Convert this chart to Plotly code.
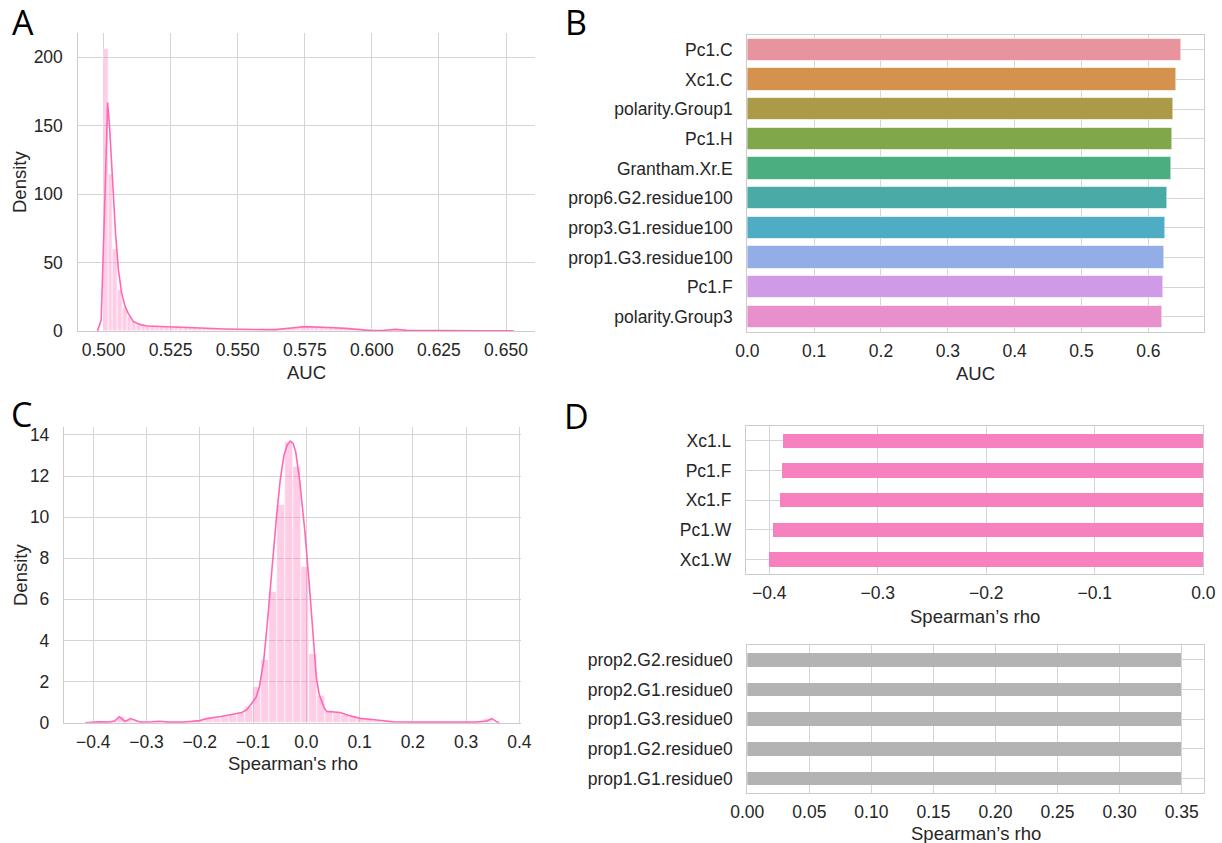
import numpy as np
import plotly.graph_objects as go

# ---------------- Panel A: AUC distribution ----------------
a_hist_start = 0.500
a_hist_width = 0.00175
a_hist_density = [206, 115, 60, 30, 17, 10.5, 7.5, 6, 5, 4.2,
                  3.6, 3.4, 3.3, 3.2, 3.0, 3.3, 2.9, 3.0, 2.7, 2.8,
                  2.5, 2.2, 2.0, 1.8, 1.6, 1.5, 1.4, 1.3, 1.2, 1.3,
                  1.1, 1.2, 1.0, 1.1, 1.0, 1.0, 1.1, 1.3, 1.6, 2.2,
                  2.8, 3.2, 3.4, 3.3, 3.2, 3.0, 2.9, 3.1, 2.7, 2.6,
                  2.4, 2.2, 1.9, 1.5, 1.2, 0.9, 0.6, 0.4, 0.3, 0.4,
                  0.6, 0.9, 1.2, 1.0, 0.6, 0.4, 0.3, 0.3, 0.2, 0.2,
                  0.2, 0.2, 0.1, 0.1, 0.2, 0.1, 0.2, 0.1, 0.1, 0.1,
                  0.1, 0.1, 0.2, 0.1, 0.1, 0.1, 0.3]
a_kde_x = [0.4977, 0.4991, 0.5003, 0.5015, 0.5022, 0.5030, 0.5036, 0.5045, 0.5055, 0.5067,
           0.5080, 0.5092, 0.5111, 0.5135, 0.5161, 0.5200, 0.5250, 0.5300, 0.5360, 0.5450,
           0.5500, 0.5560, 0.5640, 0.5680, 0.5720, 0.5750, 0.5800, 0.5857, 0.5900, 0.5956,
           0.6000, 0.6040, 0.6087, 0.6130, 0.6200, 0.6300, 0.6400, 0.6500, 0.6530]
a_kde_y = [0, 8, 85, 167, 150, 120, 98, 70, 45, 28,
           18, 12.9, 6.8, 4.8, 3.7, 3.3, 3.1, 2.8, 2.2, 1.5,
           1.2, 1.1, 1.0, 1.6, 2.6, 3.2, 3.0, 2.4, 1.9, 1.0,
           0.3, 0.4, 1.2, 0.5, 0.3, 0.2, 0.15, 0.15, 0]
a_xticks = [0.500, 0.525, 0.550, 0.575, 0.600, 0.625, 0.650]
a_yticks = [0, 50, 100, 150, 200]

# ---------------- Panel B: top features by AUC ----------------
b_features = ["Pc1.C", "Xc1.C", "polarity.Group1", "Pc1.H", "Grantham.Xr.E",
              "prop6.G2.residue100", "prop3.G1.residue100", "prop1.G3.residue100",
              "Pc1.F", "polarity.Group3"]
b_auc = [0.650, 0.6415, 0.637, 0.6365, 0.634, 0.628, 0.6255, 0.6235, 0.623, 0.6216]
b_colors = ["#e8949f", "#d5924f", "#ab9a47", "#80a84a", "#4aae80",
            "#4aaaa6", "#4facc5", "#93aee6", "#cf9ae6", "#e890cb"]
b_xticks = [0.0, 0.1, 0.2, 0.3, 0.4, 0.5, 0.6]

# ---------------- Panel C: Spearman's rho distribution ----------------
c_hist_start = -0.4005
c_hist_width = 0.015
c_hist_density = [0.05, 0.03, 0.10, 0.30, 0.15, 0.05, 0.03, 0.05, 0.06, 0.03,
                  0.03, 0.04, 0.06, 0.10, 0.18, 0.20, 0.30, 0.40, 0.50, 0.78,
                  1.75, 3.05, 6.37, 10.6, 13.67, 12.46, 7.59, 3.38, 1.31, 0.54,
                  0.50, 0.40, 0.30, 0.20, 0.15, 0.10, 0.06, 0.04, 0.03, 0.04,
                  0.05, 0.03, 0.04, 0.03, 0.03, 0.02, 0.03, 0.05, 0.05, 0.20]
c_kde_x = [-0.4156, -0.39, -0.37, -0.36, -0.351, -0.3405, -0.33, -0.312, -0.29, -0.2747,
           -0.26, -0.23, -0.20, -0.187, -0.16, -0.137, -0.121, -0.111, -0.103, -0.095,
           -0.088, -0.080, -0.074, -0.0668, -0.0619, -0.056, -0.049, -0.042, -0.036, -0.030,
           -0.025, -0.020, -0.0125, -0.003, 0.006, 0.0124, 0.0187, 0.024, 0.0293, 0.034,
           0.0384, 0.0446, 0.0634, 0.080, 0.101, 0.1323, 0.1635, 0.20, 0.23, 0.26,
           0.29, 0.32, 0.339, 0.3483, 0.3577, 0.3627]
c_kde_y = [0, 0.04, 0.03, 0.08, 0.29, 0.06, 0.2, 0.03, 0.04, 0.07,
           0.03, 0.03, 0.1, 0.2, 0.3, 0.42, 0.5, 0.65, 0.9, 1.2,
           1.75, 3.0, 4.6, 6.85, 8.3, 10.0, 11.8, 13.0, 13.5, 13.7,
           13.6, 13.2, 11.8, 9.4, 6.6, 4.2, 2.24, 1.4, 1.0, 0.7,
           0.55, 0.54, 0.5, 0.35, 0.21, 0.13, 0.04, 0.03, 0.04, 0.04,
           0.03, 0.03, 0.08, 0.2, 0.04, 0]
c_xticks = [-0.4, -0.3, -0.2, -0.1, 0.0, 0.1, 0.2, 0.3, 0.4]
c_xticktext = ["\u22120.4", "\u22120.3", "\u22120.2", "\u22120.1", "0.0", "0.1", "0.2", "0.3", "0.4"]
c_yticks = [0, 2, 4, 6, 8, 10, 12, 14]

# ---------------- Panel D: most negative / positive correlations ----------------
d_neg_features = ["Xc1.W", "Pc1.W", "Xc1.F", "Pc1.F", "Xc1.L"]
d_neg_rho = [-0.4006, -0.3963, -0.3901, -0.3880, -0.3871]
d_neg_xticks = [-0.4, -0.3, -0.2, -0.1, 0.0]
d_neg_xticktext = ["\u22120.4", "\u22120.3", "\u22120.2", "\u22120.1", "0.0"]
d_pos_features = ["prop1.G1.residue0", "prop1.G2.residue0", "prop1.G3.residue0",
                  "prop2.G1.residue0", "prop2.G2.residue0"]
d_pos_rho = [0.35, 0.35, 0.35, 0.35, 0.35]
d_pos_xticks = [0.00, 0.05, 0.10, 0.15, 0.20, 0.25, 0.30, 0.35]

# ---------------- styling ----------------
W, H = 1222, 843
FONT = "Liberation Sans, Arial, sans-serif"
TXT = "#262626"
GRID = "#d5d5d5"
SPINE = "#cccccc"
PINK_LINE = "#ff69b4"
PINK_FILL = "rgba(255,105,180,0.33)"


def dom_x(l, r):
    return [l / W, r / W]


def dom_y(t, b):
    return [1 - b / H, 1 - t / H]


fig = go.Figure()

# A
a_centers = a_hist_start + a_hist_width * (np.arange(len(a_hist_density)) + 0.5)
fig.add_trace(go.Bar(x=a_centers, y=a_hist_density, width=a_hist_width,
                     marker=dict(color=PINK_FILL, line=dict(color="white", width=0.6)),
                     xaxis="x", yaxis="y", showlegend=False, hoverinfo="skip"))
fig.add_trace(go.Scatter(x=a_kde_x, y=a_kde_y, mode="lines",
                         line=dict(color=PINK_LINE, width=1.6),
                         xaxis="x", yaxis="y", showlegend=False))

# B
fig.add_trace(go.Bar(x=b_auc, y=b_features, orientation="h", width=0.76,
                     marker=dict(color=b_colors, line=dict(color="rgba(255,255,255,0.6)", width=1)),
                     xaxis="x2", yaxis="y2", showlegend=False))

# C
c_centers = c_hist_start + c_hist_width * (np.arange(len(c_hist_density)) + 0.5)
fig.add_trace(go.Bar(x=c_centers, y=c_hist_density, width=c_hist_width,
                     marker=dict(color=PINK_FILL, line=dict(color="white", width=0.6)),
                     xaxis="x3", yaxis="y3", showlegend=False, hoverinfo="skip"))
fig.add_trace(go.Scatter(x=c_kde_x, y=c_kde_y, mode="lines",
                         line=dict(color=PINK_LINE, width=1.6),
                         xaxis="x3", yaxis="y3", showlegend=False))

# D top
fig.add_trace(go.Bar(x=d_neg_rho, y=d_neg_features, orientation="h", width=0.48,
                     marker=dict(color="#f781bf", line=dict(width=0)),
                     xaxis="x4", yaxis="y4", showlegend=False))
# D bottom
fig.add_trace(go.Bar(x=d_pos_rho, y=d_pos_features, orientation="h", width=0.46,
                     marker=dict(color="#b3b3b3", line=dict(width=0)),
                     xaxis="x5", yaxis="y5", showlegend=False))

tickfont = dict(family=FONT, size=17.5, color=TXT)
common = dict(showgrid=True, gridcolor=GRID, gridwidth=1, zeroline=False,
              ticks="", tickfont=tickfont, linecolor=SPINE, linewidth=1.3,
              automargin=False)
XSO = 3   # x tick label standoff
YSO = 10  # y tick label standoff

fig.update_layout(
    width=W, height=H, autosize=False,
    margin=dict(l=0, r=0, t=0, b=0, pad=0),
    paper_bgcolor="white", plot_bgcolor="white",
    bargap=0,
    xaxis=dict(domain=dom_x(77.5, 535), anchor="y", range=[0.49027, 0.66081],
               tickvals=a_xticks, tickformat=".3f", showline=True, mirror=False,
               ticklabelstandoff=XSO, **common),
    yaxis=dict(domain=dom_y(33, 331), anchor="x", range=[0, 217.8],
               tickvals=a_yticks, showline=True, mirror=False,
               ticklabelstandoff=YSO, **common),
    xaxis2=dict(domain=dom_x(747.3, 1204), anchor="y2", range=[0, 0.6833],
                tickvals=b_xticks, tickformat=".1f", showline=True, mirror=True,
                ticklabelstandoff=XSO, **common),
    yaxis2=dict(domain=dom_y(35, 331.7), anchor="x2", type="category",
                categoryorder="array", categoryarray=b_features, range=[9.5, -0.5],
                showline=True, mirror=True, ticklabelstandoff=YSO, **common),
    xaxis3=dict(domain=dom_x(64, 521), anchor="y3", range=[-0.455, 0.4032],
                tickvals=c_xticks, ticktext=c_xticktext, showline=True, mirror=False,
                ticklabelstandoff=XSO, **common),
    yaxis3=dict(domain=dom_y(426.7, 722.7), anchor="x3", range=[0, 14.4],
                tickvals=c_yticks, showline=True, mirror=False,
                ticklabelstandoff=YSO, **common),
    xaxis4=dict(domain=dom_x(746, 1203.3), anchor="y4", range=[-0.4215, 0],
                tickvals=d_neg_xticks, ticktext=d_neg_xticktext, showline=True, mirror=True,
                ticklabelstandoff=XSO, **common),
    yaxis4=dict(domain=dom_y(426, 574.3), anchor="x4", type="category",
                categoryorder="array", categoryarray=d_neg_features, range=[-0.5, 4.5],
                showline=True, mirror=True, ticklabelstandoff=YSO, **common),
    xaxis5=dict(domain=dom_x(747.3, 1204), anchor="y5", range=[0, 0.368],
                tickvals=d_pos_xticks, tickformat=".2f", showline=True, mirror=True,
                ticklabelstandoff=XSO, **common),
    yaxis5=dict(domain=dom_y(645, 793.3), anchor="x5", type="category",
                categoryorder="array", categoryarray=d_pos_features, range=[-0.5, 4.5],
                showline=True, mirror=True, ticklabelstandoff=YSO, **common),
)

titlefont = dict(family=FONT, size=18.5, color=TXT)
letterfont = dict(family="Open Sans, sans-serif", size=34, color="black")


def ann(text, x, y, font, angle=0, pad=1):
    fig.add_annotation(text=text, x=x / W, y=1 - y / H, xref="paper", yref="paper",
                       showarrow=False, xanchor="center", yanchor="middle",
                       font=font, textangle=angle, borderpad=pad)


# axis titles
ann("AUC", 306, 372, titlefont)
ann("Density", 20, 182, titlefont, -90)
ann("AUC", 975.5, 373, titlefont)
ann("Spearman's rho", 292.5, 763, titlefont)
ann("Density", 20, 575, titlefont, -90)
ann("Spearman\u2019s rho", 975, 616, titlefont)
ann("Spearman\u2019s rho", 975.5, 833, titlefont)

# panel letters
ann("A", 23, 22, letterfont, pad=0)
ann("B", 576, 22, letterfont, pad=0)
ann("C", 21, 414, letterfont, pad=0)
ann("D", 576, 416, letterfont, pad=0)

fig.write_html("out.html")
